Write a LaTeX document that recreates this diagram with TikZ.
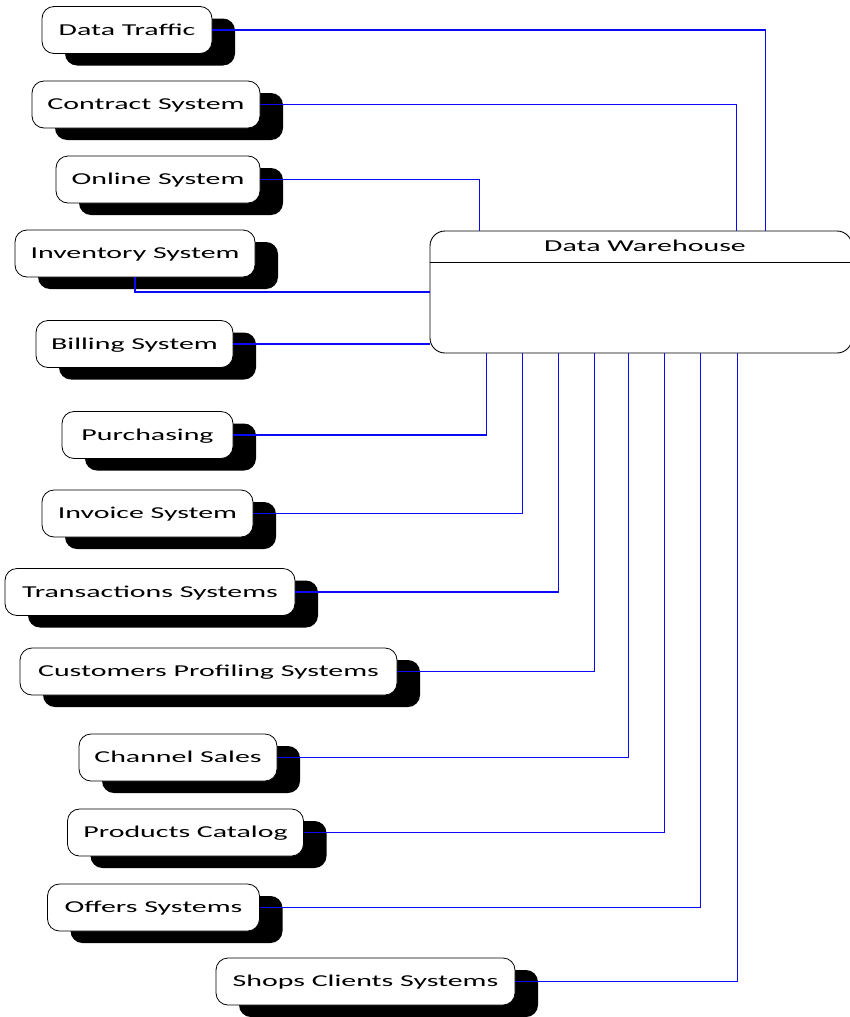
\documentclass[tikz,border=0pt]{standalone}
\usepackage{fontspec}
\setmainfont{Carlito}[FakeStretch=1.8]
\usetikzlibrary{shadows}
\begin{document}
\begin{tikzpicture}[x=1pt,y=-1pt,
  srcbox/.style={draw=black, line width=0.8pt, fill=white, rounded corners=12pt,
    minimum height=47pt, inner sep=0pt, text height=12pt, text depth=2pt,
    font=\fontsize{16.6}{18}\selectfont,
    drop shadow={shadow xshift=23pt, shadow yshift=-12pt, opacity=1, fill=black}},
  whbox/.style={draw=black, line width=0.9pt, fill=white, rounded corners=15pt,
    minimum width=422pt, minimum height=122pt, inner sep=0pt},
  link/.style={draw={rgb,255:red,10;green,10;blue,245}, line width=1.1pt}]
\useasboundingbox (0,0) rectangle (850,1017);

% central store
\node[whbox] (dw) at (641,292) {};
\node[font=\fontsize{16.6}{18}\selectfont] (dwt) at (645,246) {Data Warehouse};
\draw[line width=0.8pt] (dw.west |- 0,262) -- (dw.east |- 0,262);

% source systems
\node[srcbox, minimum width=170pt] (dt)  at (127,30)    {Data Traffic};
\node[srcbox, minimum width=228pt] (cs)  at (146,104.5) {Contract System};
\node[srcbox, minimum width=204pt] (os)  at (158,179.5) {Online System};
\node[srcbox, minimum width=240pt] (inv) at (135,253.5) {Inventory System};
\node[srcbox, minimum width=197pt] (bil) at (134.5,344) {Billing System};
\node[srcbox, minimum width=171pt] (pur) at (147.5,435) {Purchasing};
\node[srcbox, minimum width=211pt] (ivs) at (147.5,513.5) {Invoice System};
\node[srcbox, minimum width=290pt] (trs) at (150,592)   {Transactions Systems};
\node[srcbox, minimum width=377pt] (cps) at (208.5,671.5) {Customers Profiling Systems};
\node[srcbox, minimum width=198pt] (chs) at (178,757.5) {Channel Sales};
\node[srcbox, minimum width=236pt] (pc)  at (185.5,832.5) {Products Catalog};
\node[srcbox, minimum width=212pt] (ofs) at (153.5,907.5) {Offers Systems};
\node[srcbox, minimum width=299pt] (scs) at (365.5,981.5) {Shops Clients Systems};

% feeds into the warehouse top edge
\draw[link] (dt.east) -| ([xshift=336pt]dw.north west);
\draw[link] (cs.east) -| ([xshift=307pt]dw.north west);
\draw[link] (os.east) -| ([xshift=50pt]dw.north west);

% feeds into the warehouse left edge
\draw[link] (inv.south) |- (dw.west);
\draw[link] (bil.east) -- (bil.east -| dw.west);

% feeds into the warehouse bottom edge
\draw[link] (pur.east) -| ([xshift=57pt]dw.south west);
\draw[link] (ivs.east) -| ([xshift=93pt]dw.south west);
\draw[link] (trs.east) -| ([xshift=129pt]dw.south west);
\draw[link] (cps.east) -| ([xshift=165pt]dw.south west);
\draw[link] (chs.east) -| ([xshift=199pt]dw.south west);
\draw[link] (pc.east)  -| ([xshift=235pt]dw.south west);
\draw[link] (ofs.east) -| ([xshift=271pt]dw.south west);
\draw[link] (scs.east) -| ([xshift=308pt]dw.south west);
\end{tikzpicture}
\end{document}
